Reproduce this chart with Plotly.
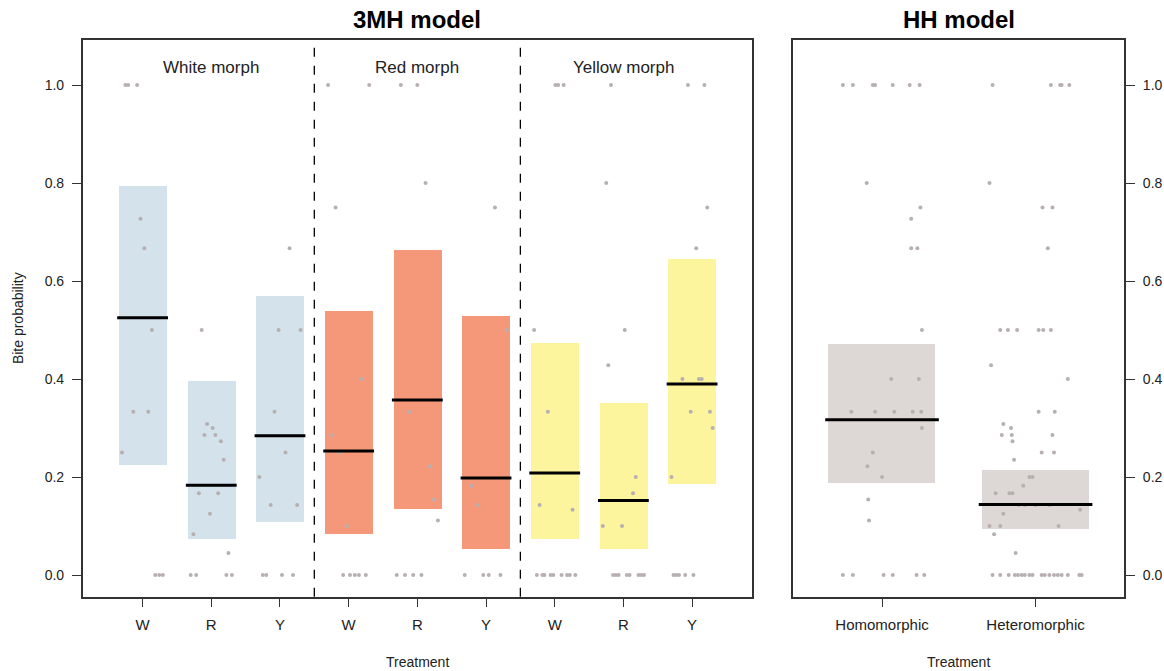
import plotly.graph_objects as go

# ---------------- data ----------------
# 3MH model: 9 treatment cells (morph panel x treatment)
cells_3mh = ["W", "R", "Y", "W", "R", "Y", "W", "R", "Y"]
morph_panels = ["White morph", "Red morph", "Yellow morph"]
mean_3mh = [0.525, 0.183, 0.284, 0.253, 0.357, 0.198, 0.208, 0.152, 0.390]
lo_3mh = [0.225, 0.074, 0.110, 0.084, 0.135, 0.054, 0.074, 0.054, 0.186]
hi_3mh = [0.795, 0.397, 0.571, 0.540, 0.664, 0.529, 0.474, 0.353, 0.646]
bar_colors_3mh = ["#d4e2ec"] * 3 + ["#f5987a"] * 3 + ["#fdf59d"] * 3

# raw observations: (jitter offset from category, bite probability)
obs_3mh = [
    [(-0.25, 1.0), (-0.21, 1.0), (-0.08, 1.0), (-0.03, 0.727), (0.025, 0.667), (0.135, 0.5),
     (-0.135, 0.333), (0.083, 0.333), (-0.30, 0.25), (0.185, 0.0), (0.243, 0.0), (0.295, 0.0)],
    [(-0.14, 0.5), (-0.06, 0.308), (0.02, 0.3), (-0.10, 0.286), (0.06, 0.286), (0.14, 0.273),
     (0.18, 0.235), (-0.18, 0.167), (0.10, 0.167), (-0.02, 0.125), (-0.26, 0.083), (0.25, 0.045),
     (-0.30, 0.0), (-0.22, 0.0), (0.22, 0.0), (0.30, 0.0)],
    [(0.14, 0.667), (-0.02, 0.5), (0.30, 0.5), (-0.08, 0.333), (0.08, 0.25), (-0.30, 0.2),
     (-0.135, 0.143), (0.25, 0.143), (-0.25, 0.0), (-0.20, 0.0), (0.03, 0.0), (0.19, 0.0)],
    [(-0.30, 1.0), (0.30, 1.0), (-0.19, 0.75), (0.19, 0.4), (-0.24, 0.286), (-0.13, 0.25),
     (-0.03, 0.1), (-0.08, 0.0), (0.02, 0.0), (0.09, 0.0), (0.15, 0.0), (0.25, 0.0)],
    [(-0.24, 1.0), (0.0, 1.0), (0.12, 0.8), (-0.12, 0.333), (0.18, 0.222), (0.24, 0.154),
     (0.30, 0.111), (-0.30, 0.0), (-0.18, 0.0), (-0.06, 0.0), (0.06, 0.0)],
    [(0.13, 0.75), (0.30, 0.5), (-0.21, 0.182), (-0.13, 0.143), (-0.31, 0.0), (-0.04, 0.0),
     (0.04, 0.0), (0.21, 0.0)],
    [(0.01, 1.0), (0.05, 1.0), (0.13, 1.0), (-0.30, 0.5), (-0.10, 0.333), (-0.22, 0.143),
     (0.26, 0.133), (-0.26, 0.0), (-0.18, 0.0), (-0.15, 0.0), (-0.06, 0.0), (-0.02, 0.0),
     (0.10, 0.0), (0.18, 0.0), (0.22, 0.0), (0.30, 0.0)],
    [(-0.18, 1.0), (-0.25, 0.8), (0.02, 0.5), (-0.22, 0.428), (0.18, 0.2), (0.14, 0.167),
     (-0.30, 0.1), (-0.02, 0.1), (-0.15, 0.0), (-0.11, 0.0), (-0.07, 0.0), (0.05, 0.0),
     (0.09, 0.0), (0.22, 0.0), (0.26, 0.0), (0.30, 0.0)],
    [(-0.06, 1.0), (0.18, 1.0), (0.22, 0.75), (0.06, 0.667), (-0.14, 0.4), (0.10, 0.4),
     (0.14, 0.4), (-0.02, 0.333), (0.26, 0.333), (0.30, 0.3), (-0.30, 0.2), (-0.27, 0.0),
     (-0.23, 0.0), (-0.19, 0.0), (-0.10, 0.0), (0.02, 0.0)],
]

# HH model
cells_hh = ["Homomorphic", "Heteromorphic"]
mean_hh = [0.317, 0.144]
lo_hh = [0.189, 0.094]
hi_hh = [0.473, 0.2155]
bar_color_hh = "#ddd8d5"
obs_hh = [
    [(-0.255, 1.0), (-0.19, 1.0), (-0.06, 1.0), (-0.045, 1.0), (0.07, 1.0), (0.18, 1.0), (0.245, 1.0),
     (-0.10, 0.8), (0.25, 0.75), (0.19, 0.727), (0.19, 0.667), (0.23, 0.667), (0.26, 0.5),
     (0.06, 0.4), (0.24, 0.4), (-0.20, 0.333), (-0.045, 0.333), (0.08, 0.333), (0.20, 0.333),
     (0.255, 0.333), (0.26, 0.3), (-0.06, 0.25), (-0.095, 0.222), (0.0, 0.2), (-0.09, 0.154),
     (-0.085, 0.111), (-0.255, 0.0), (-0.19, 0.0), (0.01, 0.0), (0.07, 0.0), (0.225, 0.0), (0.275, 0.0)],
    [(-0.28, 1.0), (0.10, 1.0), (0.16, 1.0), (0.17, 1.0), (0.22, 1.0), (-0.30, 0.8), (0.045, 0.75),
     (0.11, 0.75), (0.08, 0.667), (-0.23, 0.5), (-0.18, 0.5), (-0.12, 0.5), (0.02, 0.5), (0.05, 0.5),
     (0.10, 0.5), (-0.29, 0.428), (0.21, 0.4), (0.02, 0.333), (0.125, 0.333), (-0.21, 0.308),
     (-0.16, 0.3), (-0.22, 0.286), (-0.155, 0.286), (0.11, 0.286), (-0.15, 0.273), (0.04, 0.25),
     (0.12, 0.25), (-0.14, 0.235), (-0.04, 0.2), (-0.02, 0.2), (-0.08, 0.182), (-0.26, 0.167),
     (-0.17, 0.167), (-0.15, 0.167), (-0.11, 0.143), (-0.07, 0.143), (0.0, 0.143), (0.09, 0.143),
     (0.29, 0.133), (-0.21, 0.125), (-0.30, 0.1), (-0.23, 0.1), (0.15, 0.1), (-0.27, 0.083),
     (-0.13, 0.045), (-0.28, 0.0), (-0.23, 0.0), (-0.175, 0.0), (-0.135, 0.0), (-0.115, 0.0),
     (-0.09, 0.0), (-0.07, 0.0), (-0.04, 0.0), (-0.02, 0.0), (0.04, 0.0), (0.06, 0.0), (0.09, 0.0),
     (0.12, 0.0), (0.145, 0.0), (0.17, 0.0), (0.21, 0.0), (0.285, 0.0), (0.30, 0.0)],
]

y_ticks = [0.0, 0.2, 0.4, 0.6, 0.8, 1.0]
y_tick_text = ["0.0", "0.2", "0.4", "0.6", "0.8", "1.0"]

# ---------------- styling ----------------
FONT = "Liberation Sans, Arial, sans-serif"
PT_COLOR = "#b8b0b0"
FRAME = "#333333"
BAR_W = 0.70
LINE_HALF = 0.37

W, H = 1164, 671


def px_x(px):
    return px / W


def px_y(py):
    return 1 - py / H


fig = go.Figure()

pos_3mh = list(range(1, len(cells_3mh) + 1))
pos_hh = list(range(1, len(cells_hh) + 1))

# bars (interval)
fig.add_trace(go.Bar(x=pos_3mh, base=lo_3mh, y=[h - l for h, l in zip(hi_3mh, lo_3mh)],
                     width=BAR_W, marker=dict(color=bar_colors_3mh, line=dict(width=0)),
                     xaxis="x", yaxis="y", showlegend=False, hoverinfo="skip"))
fig.add_trace(go.Bar(x=pos_hh, base=lo_hh, y=[h - l for h, l in zip(hi_hh, lo_hh)],
                     width=BAR_W, marker=dict(color=bar_color_hh, line=dict(width=0)),
                     xaxis="x2", yaxis="y2", showlegend=False, hoverinfo="skip"))


# observations
def pts(obs, positions):
    xs, ys = [], []
    for p, group in zip(positions, obs):
        for dx, yv in group:
            xs.append(p + dx)
            ys.append(yv)
    return xs, ys


x1, y1 = pts(obs_3mh, pos_3mh)
fig.add_trace(go.Scatter(x=x1, y=y1, mode="markers", marker=dict(size=4, color=PT_COLOR),
                         xaxis="x", yaxis="y", showlegend=False))
x2, y2 = pts(obs_hh, pos_hh)
fig.add_trace(go.Scatter(x=x2, y=y2, mode="markers", marker=dict(size=4, color=PT_COLOR),
                         xaxis="x2", yaxis="y2", showlegend=False))


# mean lines
def mean_lines(positions, means):
    xs, ys = [], []
    for p, m in zip(positions, means):
        xs += [p - LINE_HALF, p + LINE_HALF, None]
        ys += [m, m, None]
    return xs, ys


mx, my = mean_lines(pos_3mh, mean_3mh)
fig.add_trace(go.Scatter(x=mx, y=my, mode="lines", line=dict(color="black", width=3),
                         xaxis="x", yaxis="y", showlegend=False))
mx, my = mean_lines(pos_hh, mean_hh)
fig.add_trace(go.Scatter(x=mx, y=my, mode="lines", line=dict(color="black", width=3),
                         xaxis="x2", yaxis="y2", showlegend=False))

# separators between morph panels
for xs in [3.5, 6.5]:
    fig.add_shape(type="line", xref="x", yref="y domain", x0=xs, x1=xs, y0=0, y1=1,
                  line=dict(color="black", width=1.3, dash="dash"))

yr = [-0.0443, 1.093]
axis_common = dict(showline=True, linecolor=FRAME, linewidth=1.5, mirror=True,
                   ticks="outside", ticklen=9, tickwidth=1.3, tickcolor=FRAME,
                   showgrid=False, zeroline=False, automargin=False)

ydom = [px_y(596.7), px_y(39.5)]
fig.update_layout(
    width=W, height=H,
    margin=dict(l=0, r=0, t=0, b=0, autoexpand=False),
    plot_bgcolor="white", paper_bgcolor="white",
    barmode="overlay", bargap=0,
    font=dict(family=FONT, color="#222222"),
    xaxis=dict(domain=[px_x(82.7), px_x(751.7)], range=[0.128, 9.868],
               tickvals=pos_3mh, ticktext=cells_3mh, tickfont=dict(size=15),
               ticklabelstandoff=5, anchor="y", **axis_common),
    yaxis=dict(domain=ydom, range=yr,
               tickvals=y_ticks, ticktext=y_tick_text, tickfont=dict(size=14),
               ticklabelstandoff=5, anchor="x", **axis_common),
    xaxis2=dict(domain=[px_x(793.3), px_x(1124.3)], range=[0.422, 2.578],
                tickvals=pos_hh, ticktext=cells_hh, tickfont=dict(size=15),
                ticklabelstandoff=5, anchor="y2", **axis_common),
    yaxis2=dict(domain=ydom, range=yr, side="right",
                tickvals=y_ticks, ticktext=y_tick_text, tickfont=dict(size=14),
                ticklabelstandoff=5, anchor="x2", **axis_common),
)

ann = []
ann.append(dict(text="<b>3MH model</b>", x=5, xref="x", y=px_y(20), yref="paper",
                showarrow=False, font=dict(size=24, color="black"), yanchor="middle"))
ann.append(dict(text="<b>HH model</b>", x=1.5, xref="x2", y=px_y(20), yref="paper",
                showarrow=False, font=dict(size=24, color="black"), yanchor="middle"))
for i, name in enumerate(morph_panels):
    ann.append(dict(text=name, x=2 + 3 * i, xref="x", y=1.035, yref="y", showarrow=False,
                    font=dict(size=17, color="#222222"), yanchor="middle"))
ann.append(dict(text="Treatment", x=5, xref="x", y=px_y(662), yref="paper",
                showarrow=False, font=dict(size=14, color="#222222"), yanchor="middle"))
ann.append(dict(text="Treatment", x=1.5, xref="x2", y=px_y(662), yref="paper",
                showarrow=False, font=dict(size=14, color="#222222"), yanchor="middle"))
ann.append(dict(text="Bite probability", x=px_x(18), xref="paper", y=0.5 * (ydom[0] + ydom[1]),
                yref="paper", showarrow=False, textangle=-90, xanchor="center",
                font=dict(size=14, color="#222222"), yanchor="middle"))
fig.update_layout(annotations=ann)

fig.write_html("out.html", config={"displayModeBar": False},
               post_script="document.body.style.margin='0';document.body.style.overflow='hidden';")
